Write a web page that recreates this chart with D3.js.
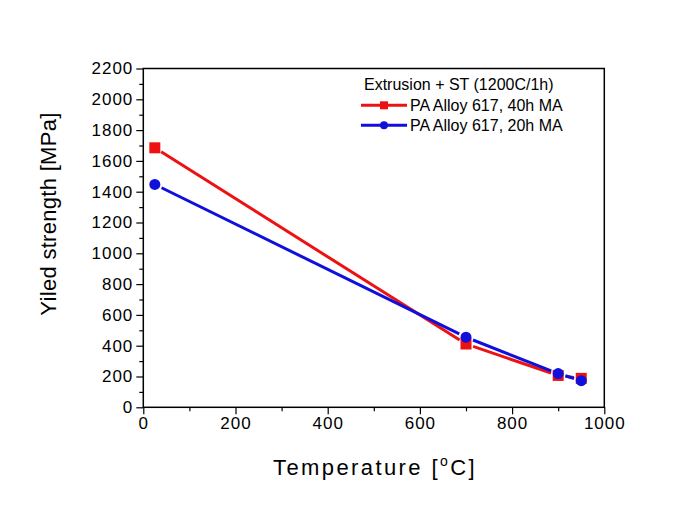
<!DOCTYPE html>
<html>
<head>
<meta charset="utf-8">
<script src="https://cdn.jsdelivr.net/npm/d3@7"></script>
<style>
  html, body { margin: 0; padding: 0; background: #fff; }
  svg { display: block; font-family: "Liberation Sans", Arial, sans-serif; }
</style>
</head>
<body>
<svg id="chart" width="673" height="525"></svg>
<script>
// ---- data ----
const temperatures = [25, 700, 900, 950];
const alloy40h = [1685, 411, 207, 188];
const alloy20h = [1447, 455, 219, 173];
const seriesNames = ["PA Alloy 617, 40h MA", "PA Alloy 617, 20h MA"];
const legendTitle = "Extrusion + ST (1200C/1h)";
const xTicks = [0, 200, 400, 600, 800, 1000];
const yTicks = [0, 200, 400, 600, 800, 1000, 1200, 1400, 1600, 1800, 2000, 2200];

(function () {
const svg = d3.select("#chart");
const pL = 143.3, pR = 604.3, pT = 68.5, pB = 407.3;

const x = d3.scaleLinear().domain([0, 1000]).range([pL, pR]);
const y = d3.scaleLinear().domain([0, 2200]).range([pB, pT]);

// minor ticks
const xMinor = d3.range(100, 1000, 200);
const yMinor = d3.range(100, 2200, 200);

const g = svg.append("g");

// frame
g.append("rect")
  .attr("x", pL).attr("y", pT)
  .attr("width", pR - pL).attr("height", pB - pT)
  .attr("fill", "none").attr("stroke", "#000").attr("stroke-width", 1.5);

// x axis
const xAxis = d3.axisBottom(x).tickValues(xTicks).tickSize(7).tickPadding(3).tickFormat(d3.format("d"));
const xg = g.append("g").attr("transform", `translate(0,${pB})`).call(xAxis);
xg.select(".domain").remove();
xg.selectAll(".tick line").attr("stroke-width", 1.2);
xg.selectAll(".tick text").attr("font-size", 17).attr("letter-spacing", 1)
  .attr("font-family", "Liberation Sans, Arial, sans-serif").attr("fill", "#000");
g.append("g").attr("transform", `translate(0,${pB})`)
  .call(d3.axisBottom(x).tickValues(xMinor).tickSize(4).tickFormat(""))
  .call(s => s.select(".domain").remove())
  .selectAll(".tick line").attr("stroke-width", 1.2);

// y axis
const yAxis = d3.axisLeft(y).tickValues(yTicks).tickSize(7).tickPadding(3).tickFormat(d3.format("d"));
const yg = g.append("g").attr("transform", `translate(${pL},0)`).call(yAxis);
yg.select(".domain").remove();
yg.selectAll(".tick line").attr("stroke-width", 1.2);
yg.selectAll(".tick text").attr("font-size", 17).attr("letter-spacing", 1)
  .attr("font-family", "Liberation Sans, Arial, sans-serif").attr("fill", "#000");
g.append("g").attr("transform", `translate(${pL},0)`)
  .call(d3.axisLeft(y).tickValues(yMinor).tickSize(4).tickFormat(""))
  .call(s => s.select(".domain").remove())
  .selectAll(".tick line").attr("stroke-width", 1.2);

// titles
svg.append("text")
  .attr("transform", "translate(56,214) rotate(-90)")
  .attr("text-anchor", "middle")
  .attr("font-size", 22)
  .attr("letter-spacing", 0.3)
  .text("Yiled strength [MPa]");

const xt = svg.append("text")
  .attr("x", 375).attr("y", 475)
  .attr("text-anchor", "middle")
  .attr("font-size", 22)
  .attr("letter-spacing", 2.4);
xt.append("tspan").text("Temperature [");
xt.append("tspan").attr("font-size", 14).attr("dy", -9).text("o");
xt.append("tspan").attr("dy", 9).text("C]");

// series with gapped lines (Origin style)
const series = [
  { name: seriesNames[0], values: alloy40h, color: "#ee1111", symbol: "square" },
  { name: seriesNames[1], values: alloy20h, color: "#1010dd", symbol: "circle" }
];

function gappedSegments(pts, gap) {
  const segs = [];
  for (let i = 0; i < pts.length - 1; i++) {
    const [x1, y1] = pts[i], [x2, y2] = pts[i + 1];
    const dx = x2 - x1, dy = y2 - y1, L = Math.hypot(dx, dy);
    if (L <= 2 * gap) continue;
    const ux = dx / L, uy = dy / L;
    segs.push([[x1 + ux * gap, y1 + uy * gap], [x2 - ux * gap, y2 - uy * gap]]);
  }
  return segs;
}

series.forEach(s => {
  const pts = temperatures.map((t, i) => [x(t), y(s.values[i])]);
  const sg = svg.append("g");
  gappedSegments(pts, 7.5).forEach(seg => {
    sg.append("line")
      .attr("x1", seg[0][0]).attr("y1", seg[0][1])
      .attr("x2", seg[1][0]).attr("y2", seg[1][1])
      .attr("stroke", s.color).attr("stroke-width", 3);
  });
  pts.forEach(p => {
    if (s.symbol === "square") {
      sg.append("rect").attr("x", p[0] - 5.5).attr("y", p[1] - 5.5)
        .attr("width", 11).attr("height", 11).attr("fill", s.color);
    } else {
      sg.append("circle").attr("cx", p[0]).attr("cy", p[1]).attr("r", 5.5).attr("fill", s.color);
    }
  });
});

// legend
const lg = svg.append("g").attr("font-size", 16);
lg.append("text").attr("x", 364).attr("y", 90).text(legendTitle);
series.forEach((s, i) => {
  const ly = 105.3 + i * 20;
  lg.append("line").attr("x1", 361).attr("x2", 407).attr("y1", ly).attr("y2", ly)
    .attr("stroke", s.color).attr("stroke-width", 3);
  if (s.symbol === "square") {
    lg.append("rect").attr("x", 384 - 4).attr("y", ly - 4).attr("width", 8).attr("height", 8).attr("fill", s.color);
  } else {
    lg.append("circle").attr("cx", 384).attr("cy", ly).attr("r", 4).attr("fill", s.color);
  }
  lg.append("text").attr("x", 410).attr("y", ly + 5.8).text(s.name);
});
})();
</script>
</body>
</html>
